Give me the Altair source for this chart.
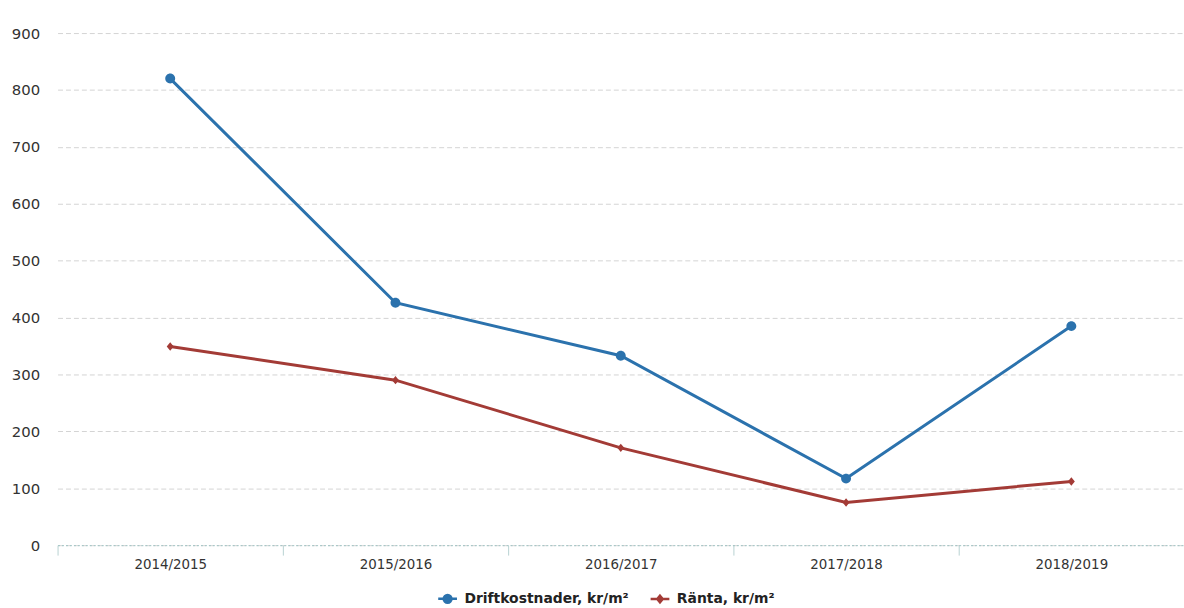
import altair as alt
import pandas as pd

years = ["2014/2015", "2015/2016", "2016/2017", "2017/2018", "2018/2019"]
drift = [820, 426, 333, 117, 385]
ranta = [349, 290, 171, 75, 112]
series_names = ["Driftkostnader, kr/m²", "Ränta, kr/m²"]
colors = ["#2b72ad", "#a33b36"]
# marker shapes; the short horizontal line only shows in the legend (stroked there)
shapes = [
    "M-2.4,0H2.4M0,-1A1,1,0,1,1,0,1A1,1,0,1,1,0,-1Z",
    "M-2.4,0H2.4M0,-0.85L0.7,0L0,0.85L-0.7,0Z",
]
y_ticks = [0, 100, 200, 300, 400, 500, 600, 700, 800, 900]

rows = []
for y, v in zip(years, drift):
    rows.append({"year": y, "series": series_names[0], "value": v})
for y, v in zip(years, ranta):
    rows.append({"year": y, "series": series_names[1], "value": v})
df = pd.DataFrame(rows)

x = alt.X("year:N", sort=years, title=None,
          scale=alt.Scale(paddingInner=0, paddingOuter=0),
          axis=alt.Axis(labelAngle=0, labelFont="DejaVu Sans", labelFontSize=13.5,
                        labelColor="#333333", labelPadding=3,
                        domainColor="#9fc4c4", domainDash=[2, 2], domainWidth=1,
                        tickColor="#b7d2d2", tickSize=10, tickBand="extent",
                        grid=False))
y = alt.Y("value:Q", title=None,
          scale=alt.Scale(domain=[0, 900], nice=False),
          axis=alt.Axis(values=y_ticks, labelFont="DejaVu Sans", labelFontSize=15,
                        labelColor="#333333", labelPadding=18, domain=False,
                        ticks=False, grid=True, gridColor="#d4d4d4",
                        gridDash=[5, 3], gridWidth=1))
legend = alt.Legend(title=None, orient="none", direction="horizontal",
                    legendX=386, legendY=563,
                    labelFont="DejaVu Sans", labelFontSize=14,
                    labelFontWeight="bold", labelColor="#222222", labelLimit=400,
                    columnPadding=16, symbolSize=62, labelOffset=10,
                    symbolStrokeWidth=2.5)
color = alt.Color("series:N", scale=alt.Scale(domain=series_names, range=colors),
                  legend=legend)
stroke = alt.Stroke("series:N", scale=alt.Scale(domain=series_names, range=colors),
                    legend=legend)
shape = alt.Shape("series:N", scale=alt.Scale(domain=series_names, range=shapes),
                  legend=legend)

lines = alt.Chart(df).mark_line(strokeWidth=3).encode(x=x, y=y, color=color, detail="series:N")
points = alt.Chart(df).mark_point(filled=True, size=100, opacity=1, strokeWidth=0).encode(
    x=x, y=y, color=color, stroke=stroke, shape=shape)

chart = (lines + points).properties(
    width=1135, height=516,
    background="white",
    autosize=alt.AutoSizeParams(type="none"),
    padding={"left": 58, "top": 31, "right": 0, "bottom": 61},
).configure_view(stroke=None)

chart.save("out.html", embed_options={"renderer": "svg", "actions": False})
